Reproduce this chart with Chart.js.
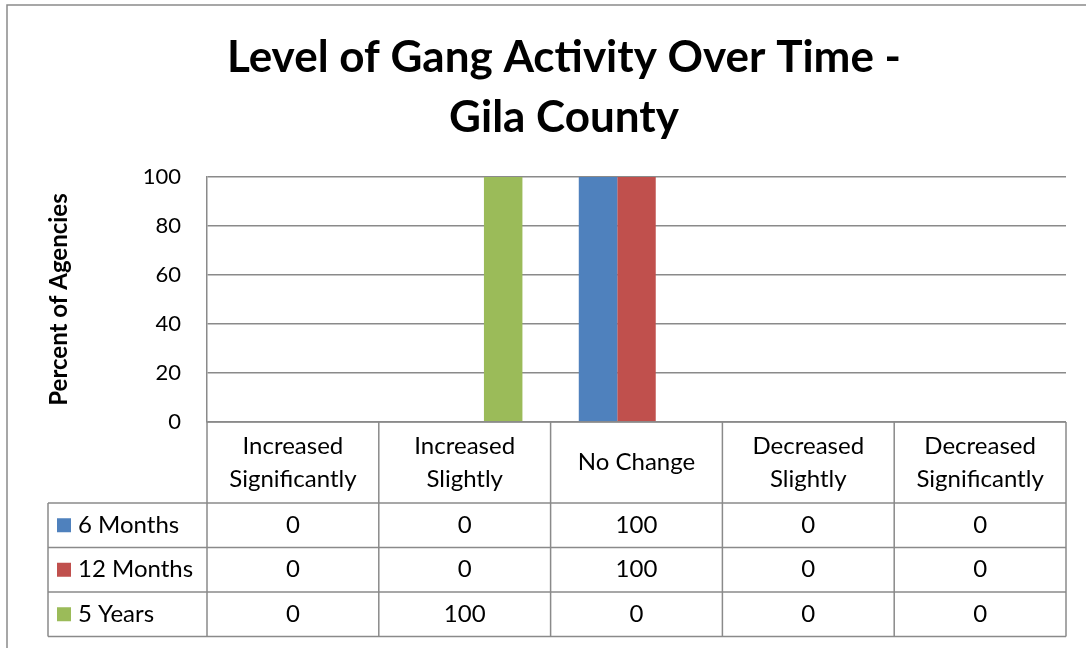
<!DOCTYPE html>
<html>
<head>
<meta charset="utf-8">
<title>Level of Gang Activity Over Time - Gila County</title>
<script src="https://cdn.jsdelivr.net/npm/chart.js@4.4.1/dist/chart.umd.min.js"></script>
<style>
  html, body { margin: 0; padding: 0; background: #fff; }
  canvas { display: block; }
</style>
</head>
<body>
<canvas id="gang-chart" width="1086" height="648"></canvas>
<script>
// Chart title (two lines)
const titleLines = ['Level of Gang Activity Over Time -', 'Gila County'];

// Categories (x axis) - each one split into the lines shown in the table header
const categories = [
    ['Increased', 'Significantly'],
    ['Increased', 'Slightly'],
    ['No Change'],
    ['Decreased', 'Slightly'],
    ['Decreased', 'Significantly']
];

// Series values (percent of agencies)
const seriesNames = ['6 Months', '12 Months', '5 Years'];
const sixMonths = [0, 0, 100, 0, 0];
const twelveMonths = [0, 0, 100, 0, 0];
const fiveYears = [0, 100, 0, 0, 0];
const seriesColors = ['#4F81BD', '#C0504D', '#9BBB59'];

// Y axis range
const yMin = 0;
const yMax = 100;
const yStep = 20;

const FONT = 'Lato, "Noto Sans", sans-serif';
const LINE_COLOR = '#8a8a8a';

// -----------------------------------------------
// Outer frame and title of the chart
// -----------------------------------------------
const framePlugin = {
    id: 'frame',
    beforeDraw(chart) {
        const ctx = chart.ctx;
        ctx.save();
        ctx.fillStyle = '#fff';
        ctx.fillRect(0, 0, chart.width, chart.height);
        ctx.strokeStyle = LINE_COLOR;
        ctx.lineWidth = 1.5;
        ctx.beginPath();
        ctx.moveTo(7, chart.height);
        ctx.lineTo(7, 5);
        ctx.lineTo(chart.width, 5);
        ctx.stroke();

        // title, centred like the original (a little right of the canvas centre)
        ctx.fillStyle = '#000';
        ctx.font = 'bold 44px ' + FONT;
        ctx.textAlign = 'center';
        ctx.textBaseline = 'middle';
        titleLines.forEach((line, i) => {
            ctx.fillText(line, 564, 58 + i * 60);
        });
        ctx.restore();
    }
};

// -----------------------------------------------
// Data table under the plot (Excel style)
// -----------------------------------------------
const dataTablePlugin = {
    id: 'dataTable',
    afterDraw(chart) {
        const ctx = chart.ctx;
        const area = chart.chartArea;
        const xScale = chart.scales.x;
        const n = chart.data.labels.length;
        const colW = (area.right - area.left) / n;

        const headerTop = area.bottom;
        const headerBottom = headerTop + 81;
        const rowH = 44.5;
        const legendLeft = 48;
        const rows = chart.data.datasets.length;
        const tableBottom = headerBottom + rowH * rows;

        ctx.save();
        ctx.strokeStyle = LINE_COLOR;
        ctx.lineWidth = 1.5;

        // vertical lines
        ctx.beginPath();
        for (let i = 0; i <= n; i++) {
            const x = area.left + colW * i;
            ctx.moveTo(x, headerTop);
            ctx.lineTo(x, tableBottom);
        }
        ctx.moveTo(legendLeft, headerBottom);
        ctx.lineTo(legendLeft, tableBottom);

        // horizontal lines
        ctx.moveTo(area.left, headerTop);
        ctx.lineTo(area.right, headerTop);
        for (let r = 0; r <= rows; r++) {
            const y = headerBottom + rowH * r;
            ctx.moveTo(legendLeft, y);
            ctx.lineTo(area.right, y);
        }
        ctx.stroke();

        ctx.fillStyle = '#000';
        ctx.font = '24px ' + FONT;
        ctx.textAlign = 'center';
        ctx.textBaseline = 'middle';

        // header labels
        chart.data.labels.forEach((label, i) => {
            const cx = xScale.getPixelForValue(i);
            const lines = Array.isArray(label) ? label : [label];
            const lh = 33;
            const cy = (headerTop + headerBottom) / 2;
            lines.forEach((line, j) => {
                ctx.fillText(line, cx, cy + (j - (lines.length - 1) / 2) * lh);
            });
        });

        // rows: legend key + values
        chart.data.datasets.forEach((ds, r) => {
            const cy = headerBottom + rowH * r + rowH / 2;
            ctx.fillStyle = ds.backgroundColor;
            ctx.fillRect(57, cy - 7, 14, 14);
            ctx.fillStyle = '#000';
            ctx.textAlign = 'left';
            ctx.fillText(ds.label, 78, cy);
            ctx.textAlign = 'center';
            ds.data.forEach((v, i) => {
                ctx.fillText(String(v), xScale.getPixelForValue(i), cy);
            });
        });
        ctx.restore();
    }
};

const chartData = {
    labels: categories,
    datasets: [
        { label: seriesNames[0], data: sixMonths, backgroundColor: seriesColors[0] },
        { label: seriesNames[1], data: twelveMonths, backgroundColor: seriesColors[1] },
        { label: seriesNames[2], data: fiveYears, backgroundColor: seriesColors[2] }
    ]
};

new Chart(document.getElementById('gang-chart'), {
    type: 'bar',
    data: chartData,
    plugins: [framePlugin, dataTablePlugin],
    options: {
        responsive: false,
        animation: false,
        layout: {
            // room for the title above and the data table below
            padding: { left: 0, right: 20, top: 177, bottom: 226 }
        },
        datasets: {
            bar: {
                categoryPercentage: 0.672,
                barPercentage: 1.0,
                borderWidth: 0
            }
        },
        plugins: {
            legend: { display: false },
            tooltip: { enabled: false },
            title: { display: false }
        },
        scales: {
            x: {
                display: false
            },
            y: {
                min: yMin,
                max: yMax,
                afterFit(scale) {
                    scale.width = 207;
                },
                ticks: {
                    stepSize: yStep,
                    padding: 26,
                    color: '#000',
                    font: { family: FONT, size: 22 }
                },
                grid: {
                    color: LINE_COLOR,
                    lineWidth: 1.5,
                    drawTicks: false
                },
                border: {
                    display: true,
                    color: LINE_COLOR,
                    width: 1.5
                },
                title: {
                    display: true,
                    text: 'Percent of Agencies',
                    color: '#000',
                    font: { family: FONT, size: 24, weight: 'bold', lineHeight: 1.2 },
                    padding: { top: 45, bottom: 0 }
                }
            }
        }
    }
});
</script>
</body>
</html>
